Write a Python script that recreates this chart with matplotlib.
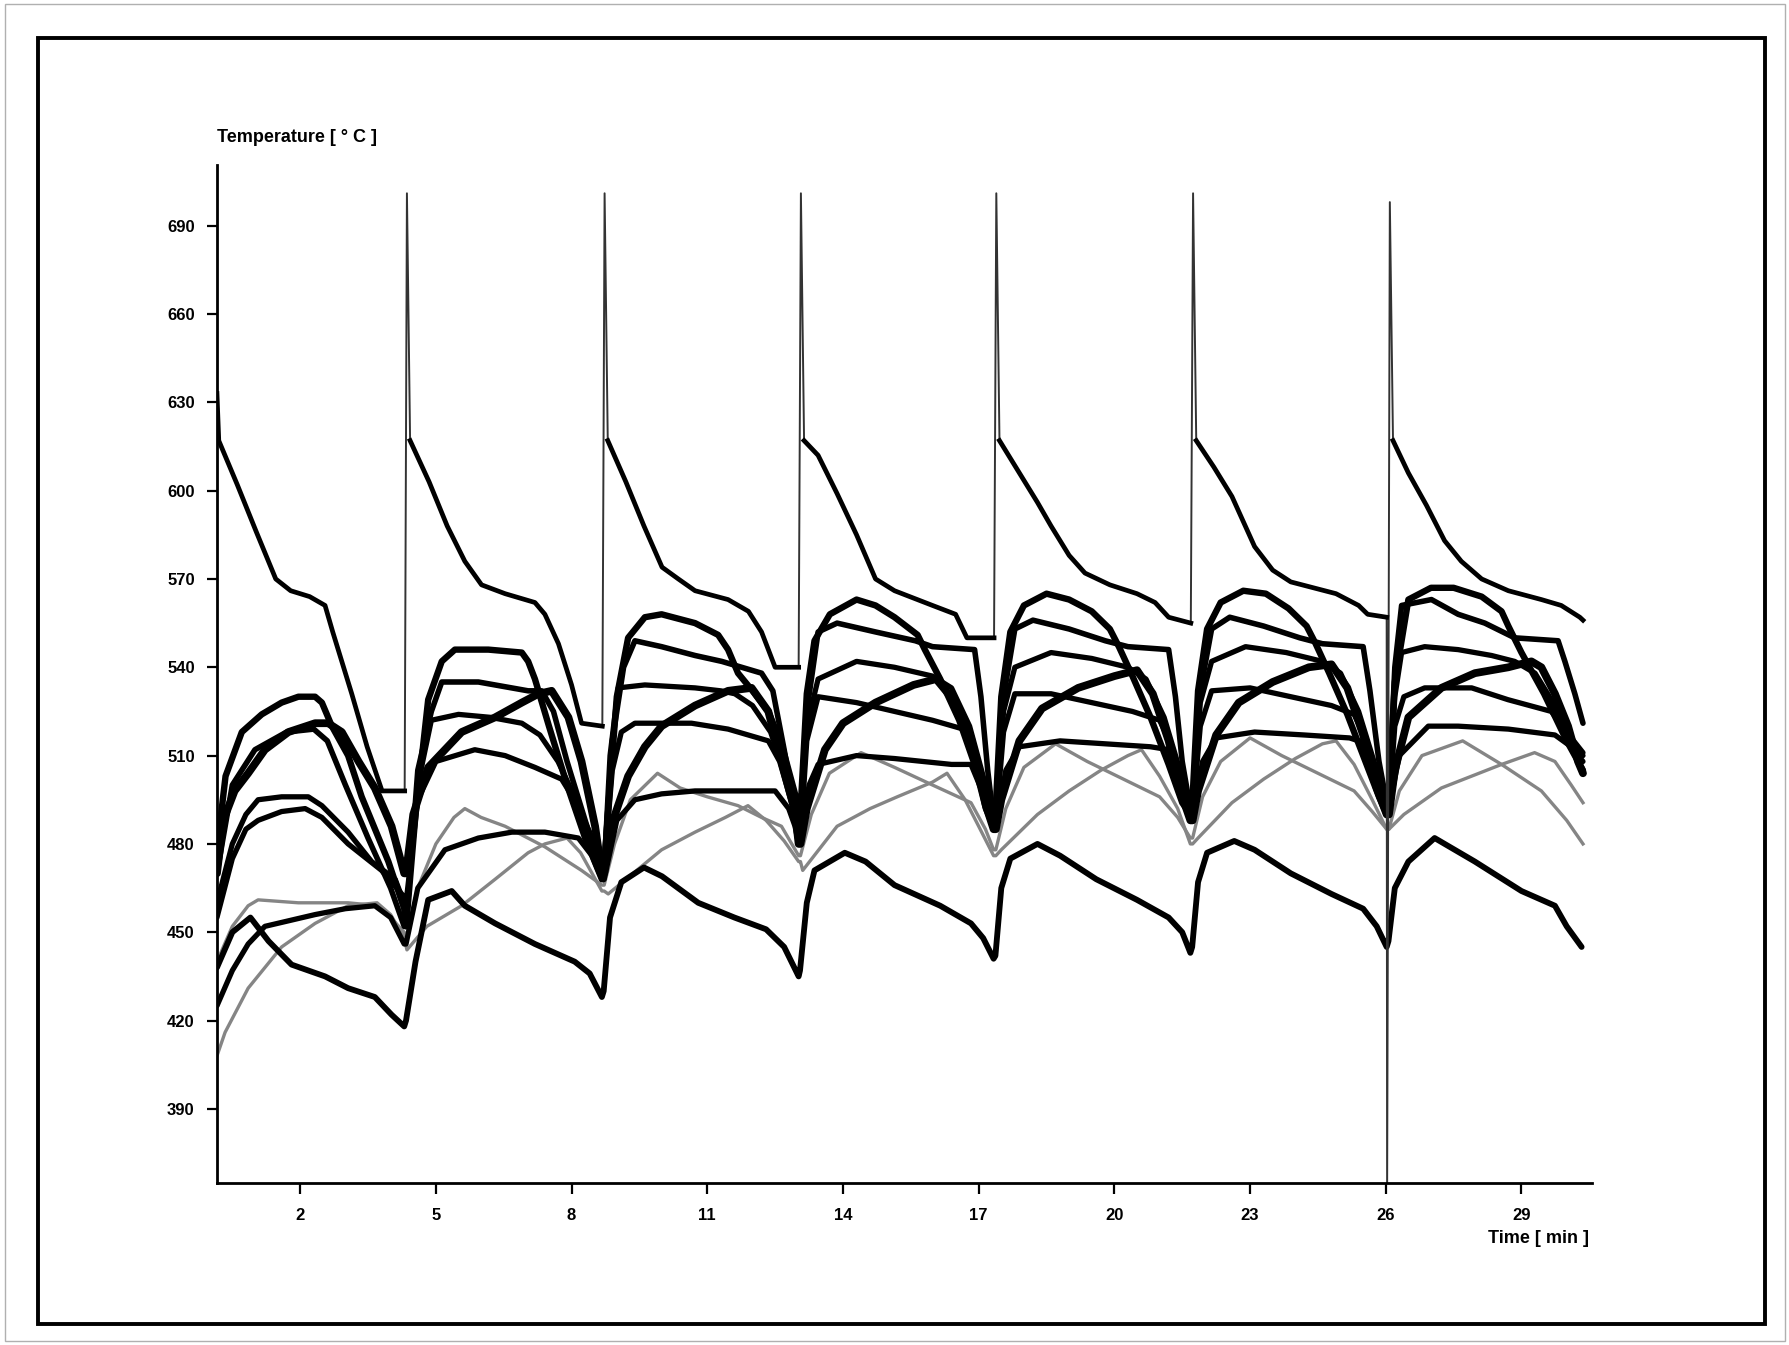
import matplotlib
matplotlib.use("Agg")
import numpy as np
import matplotlib.pyplot as plt
from matplotlib.patches import Rectangle

plt.rcParams['font.family'] = ['Liberation Sans', 'DejaVu Sans']

# (time [min], temperature [C]), one list per trace
line_a = [
    (0.16, 633), (0.20, 617), (0.61, 602), (1.03, 586), (1.46, 570), (1.79, 566), (2.21, 564),
    (2.55, 561), (2.72, 552), (3.14, 531), (3.48, 513), (3.81, 498), (4.31, 498),
    (4.36, 701), (4.43, 617), (4.85, 603), (5.25, 588), (5.64, 576), (6.01, 568),
    (6.53, 565), (7.19, 562), (7.41, 558), (7.71, 548), (8.00, 534), (8.22, 521), (8.68, 520),
    (8.73, 701), (8.80, 617), (9.20, 603), (9.60, 588), (10.00, 574), (10.36, 570),
    (10.73, 566), (11.46, 563), (11.91, 559), (12.20, 552), (12.50, 540), (13.02, 540),
    (13.07, 701), (13.14, 617), (13.45, 612), (13.87, 599), (14.30, 585),
    (14.72, 570), (15.14, 566), (15.98, 561), (16.49, 558), (16.74, 550), (17.34, 550),
    (17.39, 701), (17.46, 617), (17.90, 606), (18.30, 596), (18.60, 588),
    (19.00, 578), (19.35, 572), (19.90, 568), (20.50, 565), (20.90, 562), (21.20, 557), (21.69, 555),
    (21.74, 701), (21.81, 617), (22.20, 608), (22.60, 598), (23.10, 581),
    (23.50, 573), (23.90, 569), (24.90, 565), (25.40, 561), (25.60, 558), (26.02, 557),
    (26.03, 362), (26.09, 698), (26.16, 617), (26.50, 606), (26.90, 595),
    (27.30, 583), (27.67, 576), (28.12, 570), (28.71, 566), (29.44, 563), (29.88, 561),
    (30.29, 557), (30.36, 556),
]

line_b = [
    (0.16, 478), (0.35, 503), (0.71, 518), (1.15, 524), (1.59, 528), (1.96, 530), (2.33, 530),
    (2.48, 528), (2.70, 520), (3.06, 510), (3.36, 496), (3.95, 474), (4.30, 458),
    (4.34, 452), (4.55, 490), (4.83, 529), (5.13, 542), (5.42, 546), (6.16, 546), (6.90, 545),
    (7.04, 542), (7.19, 536), (7.50, 520), (7.90, 500), (8.30, 482), (8.67, 468),
    (8.70, 468), (8.85, 500), (9.00, 530), (9.25, 550), (9.62, 557), (9.99, 558), (10.73, 555),
    (11.24, 551), (11.46, 546), (11.68, 538), (12.00, 532), (12.35, 525), (12.64, 514),
    (12.94, 497), (13.02, 485),
    (13.04, 485), (13.20, 531), (13.37, 549), (13.71, 558), (14.30, 563), (14.72, 561),
    (15.14, 557), (15.65, 551), (15.81, 546), (16.15, 536), (16.57, 522), (16.91, 507),
    (17.16, 492), (17.33, 486),
    (17.36, 487), (17.50, 530), (17.70, 552), (18.00, 561), (18.50, 565), (19.00, 563),
    (19.50, 559), (19.90, 553), (20.10, 547), (20.40, 537), (20.80, 523), (21.20, 507),
    (21.50, 494), (21.68, 490),
    (21.71, 490), (21.85, 532), (22.05, 553), (22.35, 562), (22.85, 566), (23.35, 565),
    (23.85, 560), (24.25, 554), (24.45, 548), (24.75, 538), (25.15, 524), (25.55, 508),
    (25.85, 496), (26.02, 490),
    (26.05, 490), (26.20, 535), (26.50, 563), (27.00, 567), (27.50, 567), (28.12, 564),
    (28.56, 559), (28.71, 554), (29.00, 545), (29.50, 531), (30.00, 515), (30.36, 505),
]

line_c = [
    (0.16, 470), (0.50, 500), (1.00, 512), (1.70, 518), (2.30, 519), (2.60, 515), (3.00, 500),
    (3.50, 482), (4.00, 465), (4.30, 452),
    (4.34, 452), (4.60, 505), (4.90, 525), (5.13, 535), (5.94, 535), (7.04, 532), (7.34, 532),
    (7.60, 525), (7.90, 508), (8.30, 488), (8.67, 470),
    (8.71, 470), (8.90, 515), (9.15, 540), (9.40, 549), (9.99, 547), (10.73, 544), (11.32, 542),
    (11.76, 540), (12.20, 538), (12.45, 532), (12.70, 512), (12.90, 495), (13.02, 482),
    (13.05, 482), (13.20, 525), (13.45, 552), (13.87, 555), (14.72, 552), (15.60, 549),
    (15.98, 547), (16.91, 546), (17.05, 530), (17.20, 505), (17.33, 488),
    (17.37, 488), (17.55, 530), (17.80, 553), (18.20, 556), (19.00, 553), (19.80, 549),
    (20.30, 547), (21.20, 546), (21.35, 530), (21.50, 508), (21.68, 492),
    (21.72, 492), (21.90, 532), (22.15, 553), (22.55, 557), (23.30, 554), (24.10, 550),
    (24.60, 548), (25.50, 547), (25.65, 532), (25.85, 508), (26.02, 494),
    (26.06, 494), (26.20, 540), (26.35, 561), (27.01, 563), (27.60, 558), (28.19, 555),
    (28.85, 550), (29.81, 549), (29.96, 542), (30.18, 531), (30.36, 521),
]

line_d = [
    (0.16, 460), (0.50, 480), (0.80, 490), (1.07, 495), (1.59, 496), (2.18, 496), (2.48, 493),
    (3.06, 484), (3.58, 474), (4.10, 468), (4.30, 460),
    (4.34, 455), (4.60, 500), (4.90, 522), (5.50, 524), (6.20, 523), (6.90, 521), (7.30, 517),
    (7.70, 508), (8.10, 495), (8.67, 472),
    (8.72, 472), (8.85, 510), (9.03, 533), (9.62, 534), (10.73, 533), (11.30, 532), (11.61, 531),
    (12.00, 527), (12.40, 518), (12.80, 500), (13.02, 484),
    (13.06, 484), (13.20, 520), (13.45, 536), (14.30, 542), (15.14, 540), (15.98, 537),
    (16.40, 533), (16.80, 520), (17.10, 503), (17.33, 489),
    (17.38, 489), (17.55, 525), (17.80, 540), (18.60, 545), (19.50, 543), (20.30, 540),
    (20.70, 536), (21.10, 523), (21.45, 505), (21.68, 493),
    (21.73, 493), (21.90, 528), (22.15, 542), (22.90, 547), (23.80, 545), (24.60, 542),
    (25.00, 538), (25.40, 525), (25.80, 505), (26.02, 494),
    (26.07, 494), (26.20, 530), (26.35, 545), (26.86, 547), (27.60, 546), (28.34, 544),
    (28.85, 542), (29.30, 538), (29.70, 528), (30.00, 518), (30.36, 510),
]

line_e = [
    (0.16, 470), (0.30, 488), (0.55, 498), (0.85, 504), (1.22, 512), (1.74, 518), (2.33, 521),
    (2.62, 521), (2.92, 518), (3.29, 508), (3.65, 499), (4.02, 486), (4.30, 470),
    (4.34, 470), (4.50, 490), (4.83, 506), (5.20, 512), (5.57, 518), (6.31, 523), (6.90, 528),
    (7.27, 531), (7.56, 532), (7.93, 523), (8.22, 508), (8.52, 486), (8.67, 470),
    (8.72, 470), (8.85, 485), (9.25, 503), (9.62, 513), (9.99, 520), (10.73, 527), (11.46, 532),
    (11.98, 533), (12.35, 525), (12.64, 508), (12.94, 491), (13.02, 480),
    (13.06, 480), (13.20, 492), (13.60, 512), (14.00, 521), (14.72, 528), (15.56, 534),
    (16.06, 536), (16.49, 528), (16.83, 516), (17.16, 493), (17.33, 485),
    (17.38, 485), (17.50, 495), (17.90, 515), (18.40, 526), (19.20, 533), (20.00, 537),
    (20.50, 539), (20.85, 531), (21.20, 515), (21.50, 496), (21.68, 488),
    (21.73, 488), (21.85, 498), (22.25, 517), (22.75, 528), (23.50, 535), (24.30, 540),
    (24.80, 541), (25.15, 533), (25.50, 517), (25.80, 499), (26.02, 490),
    (26.07, 490), (26.20, 505), (26.50, 523), (27.23, 533), (27.97, 538), (28.71, 540),
    (29.22, 542), (29.44, 540), (29.74, 531), (30.03, 520), (30.25, 508), (30.36, 504),
]

line_f = [
    (0.16, 455), (0.50, 475), (0.80, 485), (1.07, 488), (1.59, 491), (2.11, 492), (2.48, 489),
    (3.06, 480), (3.80, 471), (4.30, 462),
    (4.34, 460), (4.60, 495), (5.00, 508), (5.86, 512), (6.53, 510), (7.19, 506), (7.78, 502),
    (8.10, 494), (8.52, 480), (8.67, 472),
    (8.72, 472), (8.90, 505), (9.10, 518), (9.40, 521), (10.65, 521), (11.46, 519), (12.35, 515),
    (12.60, 508), (12.94, 490), (13.02, 482),
    (13.06, 482), (13.20, 515), (13.45, 530), (14.30, 528), (15.14, 525), (15.98, 522),
    (16.66, 519), (16.90, 512), (17.15, 498), (17.33, 487),
    (17.38, 487), (17.55, 518), (17.80, 531), (18.60, 531), (19.50, 528), (20.40, 525),
    (21.00, 522), (21.25, 514), (21.50, 500), (21.68, 490),
    (21.73, 490), (21.90, 520), (22.15, 532), (23.00, 533), (23.90, 530), (24.80, 527),
    (25.30, 524), (25.55, 516), (25.80, 502), (26.02, 492),
    (26.07, 492), (26.20, 520), (26.40, 530), (26.86, 533), (27.90, 533), (28.70, 529),
    (29.66, 525), (30.00, 518), (30.36, 511),
]

line_g = [
    (0.16, 425), (0.50, 437), (0.85, 446), (1.22, 452), (2.33, 456), (3.00, 458), (3.65, 459),
    (4.00, 455), (4.30, 446),
    (4.34, 446), (4.60, 465), (5.20, 478), (5.94, 482), (6.68, 484), (7.41, 484), (8.15, 482),
    (8.45, 476), (8.67, 468),
    (8.72, 468), (9.00, 488), (9.40, 495), (9.99, 497), (10.73, 498), (11.60, 498), (12.50, 498),
    (12.80, 492), (12.94, 486), (13.02, 480),
    (13.06, 480), (13.25, 500), (13.45, 507), (14.30, 510), (15.14, 509), (16.40, 507),
    (16.83, 507), (17.10, 497), (17.33, 486),
    (17.38, 486), (17.60, 505), (17.90, 513), (18.80, 515), (19.80, 514), (20.80, 513),
    (21.20, 512), (21.45, 500), (21.68, 489),
    (21.73, 489), (21.95, 508), (22.25, 516), (23.10, 518), (24.20, 517), (25.20, 516),
    (25.60, 514), (25.80, 503), (26.02, 492),
    (26.07, 492), (26.30, 510), (26.94, 520), (27.60, 520), (28.71, 519), (29.74, 517),
    (30.10, 513), (30.36, 508),
]

line_h = [
    (0.16, 438), (0.50, 450), (0.90, 455), (1.30, 447), (1.81, 439), (2.55, 435), (3.06, 431),
    (3.65, 428), (4.02, 422), (4.30, 418),
    (4.34, 420), (4.55, 440), (4.83, 461), (5.35, 464), (5.64, 459), (6.31, 453), (7.19, 446),
    (8.07, 440), (8.40, 436), (8.67, 428),
    (8.71, 430), (8.85, 455), (9.10, 467), (9.60, 472), (10.00, 469), (10.80, 460), (11.60, 455),
    (12.30, 451), (12.70, 445), (13.02, 435),
    (13.05, 437), (13.20, 460), (13.37, 471), (14.04, 477), (14.50, 474), (15.14, 466),
    (16.15, 459), (16.83, 453), (17.10, 448), (17.33, 441),
    (17.37, 442), (17.50, 465), (17.70, 475), (18.30, 480), (18.80, 476), (19.60, 468),
    (20.50, 461), (21.20, 455), (21.50, 450), (21.68, 443),
    (21.72, 445), (21.85, 467), (22.05, 477), (22.65, 481), (23.10, 478), (23.90, 470),
    (24.80, 463), (25.50, 458), (25.80, 452), (26.02, 445),
    (26.06, 447), (26.20, 465), (26.50, 474), (27.08, 482), (27.97, 474), (29.00, 464),
    (29.74, 459), (30.00, 452), (30.33, 445),
]

# grey traces
line_i = [
    (0.16, 440), (0.50, 452), (0.85, 459), (1.07, 461), (1.96, 460), (3.06, 460), (3.73, 459),
    (4.00, 455), (4.30, 450),
    (4.34, 448), (4.60, 465), (5.00, 480), (5.40, 489), (5.64, 492), (6.00, 489), (6.53, 486),
    (7.41, 479), (8.22, 471), (8.67, 466),
    (8.72, 466), (8.95, 480), (9.30, 495), (9.90, 504), (10.40, 499), (11.00, 496), (11.68, 493),
    (12.20, 489), (12.64, 486), (13.02, 476),
    (13.06, 476), (13.30, 490), (13.70, 504), (14.40, 511), (15.14, 506), (15.98, 500),
    (16.83, 494), (17.15, 485), (17.33, 478),
    (17.38, 478), (17.60, 492), (18.00, 506), (18.70, 514), (19.40, 508), (20.20, 502),
    (21.00, 496), (21.40, 489), (21.68, 482),
    (21.73, 482), (21.95, 496), (22.35, 508), (23.00, 516), (23.70, 510), (24.50, 504),
    (25.30, 498), (25.70, 491), (26.02, 485),
    (26.07, 485), (26.30, 498), (26.80, 510), (27.70, 515), (28.56, 507), (29.44, 498),
    (30.00, 488), (30.36, 480),
]

line_j = [
    (0.16, 408), (0.34, 416), (0.85, 431), (1.59, 445), (2.33, 453), (3.06, 459), (3.70, 460),
    (4.00, 456), (4.30, 448),
    (4.36, 444), (4.80, 452), (5.57, 459), (6.31, 468), (7.04, 477), (7.41, 480), (7.90, 482),
    (8.20, 477), (8.67, 464),
    (8.72, 464), (8.81, 463), (9.99, 478), (10.73, 484), (11.40, 489), (11.90, 493),
    (12.30, 488), (12.70, 481), (13.02, 474),
    (13.06, 474), (13.11, 471), (13.87, 486), (14.60, 492), (15.20, 496), (15.98, 501),
    (16.30, 504), (16.70, 495), (17.00, 486), (17.33, 476),
    (17.38, 476), (17.50, 478), (18.30, 490), (19.00, 498), (19.70, 505), (20.30, 510),
    (20.60, 512), (21.00, 503), (21.40, 492), (21.68, 480),
    (21.73, 480), (21.85, 482), (22.60, 494), (23.30, 502), (24.00, 509), (24.60, 514),
    (24.90, 515), (25.30, 507), (25.70, 495), (26.02, 485),
    (26.07, 485), (26.40, 490), (27.23, 499), (28.56, 507), (29.29, 511), (29.74, 508),
    (30.10, 500), (30.36, 494),
]

y_ticks = [390, 420, 450, 480, 510, 540, 570, 600, 630, 660, 690]
x_ticks = [2, 5, 8, 11, 14, 17, 20, 23, 26, 29]


def xy(pts):
    arr = np.array(pts, dtype=float)
    return arr[:, 0], arr[:, 1]


fig = plt.figure(figsize=(17.9, 13.45), dpi=100)
ax = fig.add_axes([0.1212, 0.1204, 0.7682, 0.7569])

# grey traces underneath
for pts in (line_j, line_i):
    t, T = xy(pts)
    ax.plot(t, T, color='#858585', lw=2.4, solid_joinstyle='round')

# black traces
widths = {'b': 4.6, 'c': 4.0, 'd': 3.8, 'e': 5.6, 'f': 3.8, 'g': 3.8, 'h': 4.2}
for key, pts in (('h', line_h), ('g', line_g), ('f', line_f), ('d', line_d),
                 ('c', line_c), ('e', line_e), ('b', line_b)):
    t, T = xy(pts)
    ax.plot(t, T, color='black', lw=widths[key], solid_joinstyle='round',
            solid_capstyle='round')

# top trace: thin spikes, thick body
t, T = xy(line_a)
ax.plot(t, T, color='#333333', lw=1.4)
body = np.where((T > 640) | (T < 380), np.nan, T)
ax.plot(t, body, color='black', lw=3.4, solid_joinstyle='round')

ax.set_xlim(0.16, 30.56)
ax.set_ylim(364.8, 710.6)
ax.set_xticks(x_ticks)
ax.set_yticks(y_ticks)
for s in ('top', 'right'):
    ax.spines[s].set_visible(False)
for s in ('left', 'bottom'):
    ax.spines[s].set_linewidth(2.0)
ax.tick_params(axis='y', direction='out', length=7, width=1.6, pad=9, labelsize=12)
ax.tick_params(axis='x', direction='out', length=8, width=1.6, pad=10, labelsize=12)
for lbl in ax.get_xticklabels() + ax.get_yticklabels():
    lbl.set_fontweight('bold')

ax.text(0.0, 1.0275, 'Temperature [ \u00b0 C ]', transform=ax.transAxes,
        ha='left', va='center', fontsize=13, fontweight='bold')
ax.text(0.998, -0.0546, 'Time [ min ]', transform=ax.transAxes,
        ha='right', va='center', fontsize=13, fontweight='bold')

# scanned page frame
fig.patches.append(Rectangle((0.0212, 0.0156), 0.9648, 0.9561, transform=fig.transFigure,
                             fill=False, lw=2.8, ec='black'))
fig.patches.append(Rectangle((0.003, 0.003), 0.994, 0.994, transform=fig.transFigure,
                             fill=False, lw=1.0, ec='#b0b0b0'))

fig.savefig('out.png', dpi=100, facecolor='white')
